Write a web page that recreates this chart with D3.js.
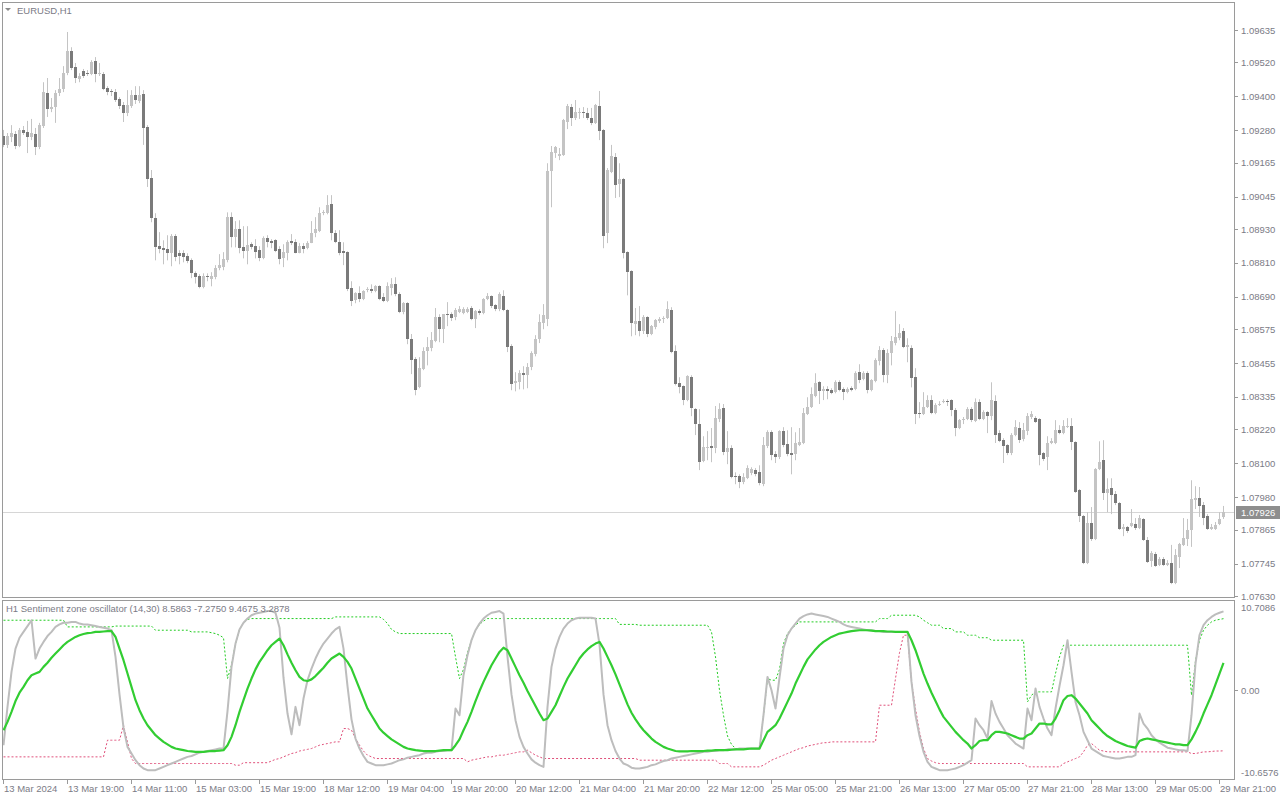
<!DOCTYPE html>
<html><head><meta charset="utf-8">
<script src="https://cdn.jsdelivr.net/npm/d3@7"></script>
<style>html,body{margin:0;padding:0;background:#fff}svg{display:block}</style>
</head><body>
<svg id="chart" width="1280" height="800"></svg>
<script>
// ---------- DATA (EURUSD H1, 306 bars) ----------
const open = [
1.09259,1.09228,1.09256,1.09266,1.09224,1.09281,1.09274,1.09256,1.09266,1.09220,
1.09295,1.09412,1.09355,1.09362,1.09412,1.09426,1.09482,1.09560,1.09504,1.09461,
1.09489,1.09482,1.09479,1.09525,1.09479,1.09479,1.09429,1.09419,1.09415,1.09390,
1.09369,1.09341,1.09366,1.09404,1.09383,1.09408,1.09291,1.09111,1.08968,1.08869,
1.08862,1.08858,1.08844,1.08904,1.08844,1.08844,1.08833,1.08819,1.08773,1.08763,
1.08724,1.08763,1.08752,1.08759,1.08791,1.08795,1.08819,1.08972,1.08901,1.08929,
1.08865,1.08851,1.08876,1.08869,1.08855,1.08826,1.08897,1.08887,1.08890,1.08858,
1.08826,1.08844,1.08887,1.08883,1.08844,1.08869,1.08862,1.08880,1.08915,1.08922,
1.08986,1.08986,1.09018,1.08915,1.08883,1.08851,1.08848,1.08720,1.08678,1.08703,
1.08681,1.08713,1.08717,1.08710,1.08727,1.08688,1.08674,1.08720,1.08734,1.08699,
1.08635,1.08667,1.08540,1.08469,1.08369,1.08433,1.08497,1.08508,1.08533,1.08618,
1.08575,1.08628,1.08628,1.08618,1.08635,1.08632,1.08635,1.08650,1.08611,1.08639,
1.08632,1.08681,1.08692,1.08660,1.08646,1.08692,1.08643,1.08515,1.08384,1.08387,
1.08419,1.08412,1.08440,1.08486,1.08540,1.08597,1.08611,1.09135,1.09199,1.09189,
1.09192,1.09309,1.09362,1.09323,1.09343,1.09344,1.09341,1.09323,1.09306,1.09366,
1.09281,1.08915,1.09132,1.09185,1.09090,1.09107,1.08848,1.08780,1.08593,1.08604,
1.08568,1.08618,1.08558,1.08583,1.08604,1.08611,1.08614,1.08643,1.08497,1.08384,
1.08373,1.08324,1.08405,1.08292,1.08239,1.08108,1.08154,1.08161,1.08154,1.08257,
1.08296,1.08140,1.08154,1.08054,1.08054,1.08033,1.08047,1.08065,1.08076,1.08068,
1.08026,1.08161,1.08210,1.08133,1.08122,1.08214,1.08168,1.08136,1.08133,1.08164,
1.08171,1.08274,1.08299,1.08337,1.08387,1.08355,1.08362,1.08359,1.08352,1.08387,
1.08362,1.08352,1.08366,1.08362,1.08423,1.08398,1.08419,1.08359,1.08391,1.08462,
1.08501,1.08412,1.08490,1.08526,1.08543,1.08568,1.08511,1.08508,1.08405,1.08278,
1.08274,1.08299,1.08324,1.08278,1.08306,1.08317,1.08320,1.08324,1.08288,1.08225,
1.08253,1.08257,1.08292,1.08249,1.08317,1.08257,1.08281,1.08267,1.08320,1.08207,
1.08182,1.08164,1.08136,1.08200,1.08225,1.08186,1.08214,1.08264,1.08260,1.08257,
1.08136,1.08122,1.08171,1.08171,1.08217,1.08207,1.08228,1.08232,1.08175,1.08005,
1.07913,1.07747,1.07889,1.07832,1.08079,1.08111,1.07995,1.08012,1.07991,1.07959,
1.07867,1.07874,1.07878,1.07885,1.07871,1.07903,1.07828,1.07754,1.07779,1.07740,
1.07761,1.07740,1.07747,1.07676,1.07768,1.07811,1.07832,1.07864,1.07970,1.07977,
1.07952,1.07913,1.07867,1.07867,1.07885,1.07910];
const high = [
1.09281,1.09270,1.09298,1.09277,1.09288,1.09295,1.09313,1.09320,1.09288,1.09306,
1.09450,1.09465,1.09394,1.09422,1.09465,1.09507,1.09628,1.09574,1.09518,1.09482,
1.09497,1.09493,1.09528,1.09539,1.09518,1.09486,1.09436,1.09426,1.09426,1.09397,
1.09380,1.09422,1.09422,1.09436,1.09436,1.09422,1.09298,1.09139,1.08986,1.08919,
1.08890,1.08908,1.08912,1.08912,1.08855,1.08855,1.08844,1.08826,1.08780,1.08770,
1.08773,1.08773,1.08777,1.08802,1.08841,1.08848,1.08989,1.08989,1.08958,1.08961,
1.08940,1.08940,1.08883,1.08894,1.08869,1.08904,1.08908,1.08894,1.08894,1.08869,
1.08876,1.08890,1.08912,1.08894,1.08880,1.08880,1.08887,1.08958,1.08972,1.09007,
1.08997,1.09050,1.09050,1.08926,1.08926,1.08883,1.08851,1.08745,1.08706,1.08727,
1.08713,1.08724,1.08734,1.08731,1.08731,1.08703,1.08741,1.08756,1.08759,1.08706,
1.08671,1.08671,1.08558,1.08476,1.08476,1.08511,1.08547,1.08565,1.08650,1.08628,
1.08628,1.08671,1.08635,1.08650,1.08657,1.08653,1.08653,1.08657,1.08643,1.08646,
1.08685,1.08703,1.08695,1.08664,1.08706,1.08713,1.08646,1.08522,1.08423,1.08430,
1.08444,1.08455,1.08497,1.08554,1.08628,1.08664,1.09163,1.09224,1.09224,1.09217,
1.09320,1.09373,1.09373,1.09387,1.09359,1.09362,1.09359,1.09359,1.09373,1.09419,
1.09284,1.09146,1.09228,1.09199,1.09163,1.09111,1.08851,1.08784,1.08650,1.08657,
1.08625,1.08621,1.08590,1.08611,1.08618,1.08621,1.08674,1.08653,1.08518,1.08405,
1.08376,1.08412,1.08412,1.08296,1.08292,1.08196,1.08214,1.08225,1.08303,1.08313,
1.08310,1.08214,1.08164,1.08068,1.08061,1.08065,1.08093,1.08086,1.08083,1.08093,
1.08193,1.08217,1.08217,1.08143,1.08217,1.08228,1.08217,1.08228,1.08210,1.08225,
1.08296,1.08334,1.08369,1.08419,1.08391,1.08373,1.08373,1.08366,1.08394,1.08394,
1.08369,1.08369,1.08373,1.08426,1.08451,1.08426,1.08426,1.08398,1.08472,1.08515,
1.08508,1.08504,1.08551,1.08639,1.08593,1.08579,1.08543,1.08518,1.08437,1.08317,
1.08352,1.08341,1.08341,1.08313,1.08320,1.08327,1.08327,1.08327,1.08296,1.08257,
1.08264,1.08299,1.08299,1.08330,1.08327,1.08288,1.08285,1.08387,1.08341,1.08217,
1.08189,1.08168,1.08207,1.08253,1.08246,1.08243,1.08278,1.08285,1.08267,1.08260,
1.08140,1.08196,1.08189,1.08253,1.08235,1.08253,1.08260,1.08260,1.08178,1.08009,
1.07917,1.07927,1.07945,1.08083,1.08178,1.08182,1.08047,1.08047,1.08002,1.07963,
1.07885,1.07878,1.07938,1.07906,1.07917,1.07906,1.07839,1.07789,1.07786,1.07768,
1.07768,1.07757,1.07811,1.07796,1.07818,1.07906,1.07903,1.08040,1.08019,1.08016,
1.07963,1.07920,1.07885,1.07892,1.07927,1.07949];
const low = [
1.09220,1.09217,1.09238,1.09213,1.09220,1.09263,1.09199,1.09245,1.09192,1.09213,
1.09288,1.09327,1.09344,1.09306,1.09401,1.09415,1.09475,1.09493,1.09447,1.09450,
1.09465,1.09472,1.09475,1.09450,1.09472,1.09422,1.09404,1.09401,1.09380,1.09355,
1.09309,1.09330,1.09359,1.09373,1.09376,1.09228,1.09079,1.08954,1.08819,1.08844,
1.08805,1.08819,1.08798,1.08816,1.08805,1.08812,1.08809,1.08756,1.08737,1.08720,
1.08720,1.08745,1.08727,1.08752,1.08784,1.08784,1.08812,1.08865,1.08865,1.08844,
1.08826,1.08805,1.08858,1.08826,1.08816,1.08823,1.08865,1.08862,1.08848,1.08805,
1.08795,1.08819,1.08873,1.08844,1.08844,1.08844,1.08858,1.08880,1.08901,1.08919,
1.08979,1.08982,1.08890,1.08880,1.08837,1.08802,1.08710,1.08657,1.08667,1.08671,
1.08678,1.08706,1.08703,1.08706,1.08678,1.08671,1.08671,1.08695,1.08692,1.08632,
1.08628,1.08522,1.08416,1.08341,1.08366,1.08430,1.08447,1.08497,1.08529,1.08529,
1.08526,1.08586,1.08604,1.08607,1.08632,1.08628,1.08632,1.08607,1.08579,1.08625,
1.08628,1.08678,1.08650,1.08639,1.08639,1.08639,1.08494,1.08359,1.08355,1.08362,
1.08362,1.08366,1.08430,1.08479,1.08526,1.08575,1.08586,1.09007,1.09182,1.09174,
1.09189,1.09284,1.09295,1.09316,1.09320,1.09323,1.09316,1.09298,1.09302,1.09245,
1.08862,1.08880,1.09128,1.09040,1.09043,1.08826,1.08695,1.08550,1.08554,1.08550,
1.08558,1.08547,1.08554,1.08575,1.08597,1.08597,1.08611,1.08490,1.08376,1.08348,
1.08306,1.08320,1.08267,1.08200,1.08076,1.08104,1.08111,1.08104,1.08136,1.08246,
1.08129,1.08097,1.08047,1.08026,1.08012,1.08026,1.08044,1.08058,1.08054,1.08022,
1.08019,1.08154,1.08111,1.08101,1.08115,1.08157,1.08125,1.08061,1.08111,1.08161,
1.08168,1.08271,1.08296,1.08334,1.08310,1.08324,1.08327,1.08345,1.08348,1.08355,
1.08324,1.08348,1.08355,1.08359,1.08384,1.08394,1.08348,1.08355,1.08387,1.08447,
1.08387,1.08384,1.08447,1.08518,1.08536,1.08508,1.08458,1.08369,1.08239,1.08260,
1.08271,1.08296,1.08274,1.08274,1.08303,1.08313,1.08303,1.08267,1.08196,1.08221,
1.08239,1.08253,1.08246,1.08246,1.08253,1.08253,1.08207,1.08253,1.08172,1.08175,
1.08101,1.08129,1.08129,1.08196,1.08172,1.08178,1.08200,1.08257,1.08243,1.08093,
1.08108,1.08076,1.08168,1.08168,1.08203,1.08203,1.08225,1.08147,1.07995,1.07892,
1.07743,1.07743,1.07825,1.07828,1.08076,1.07970,1.07927,1.07920,1.07952,1.07864,
1.07842,1.07853,1.07874,1.07864,1.07867,1.07825,1.07747,1.07733,1.07733,1.07736,
1.07736,1.07736,1.07672,1.07672,1.07729,1.07807,1.07807,1.07804,1.07938,1.07910,
1.07881,1.07864,1.07864,1.07864,1.07881,1.07903];
const close = [
1.09228,1.09259,1.09270,1.09224,1.09281,1.09270,1.09256,1.09270,1.09220,1.09298,
1.09415,1.09355,1.09362,1.09412,1.09426,1.09482,1.09560,1.09500,1.09465,1.09472,
1.09472,1.09479,1.09521,1.09479,1.09482,1.09426,1.09415,1.09415,1.09387,1.09366,
1.09341,1.09369,1.09404,1.09387,1.09404,1.09288,1.09107,1.08968,1.08865,1.08858,
1.08855,1.08844,1.08904,1.08830,1.08833,1.08830,1.08816,1.08773,1.08759,1.08724,
1.08763,1.08759,1.08763,1.08791,1.08802,1.08823,1.08972,1.08901,1.08929,1.08862,
1.08851,1.08873,1.08865,1.08848,1.08826,1.08897,1.08883,1.08880,1.08851,1.08823,
1.08848,1.08883,1.08880,1.08844,1.08869,1.08858,1.08880,1.08915,1.08929,1.08986,
1.08990,1.09014,1.08915,1.08883,1.08844,1.08844,1.08717,1.08674,1.08703,1.08681,
1.08710,1.08717,1.08710,1.08727,1.08681,1.08674,1.08727,1.08734,1.08699,1.08635,
1.08667,1.08540,1.08465,1.08359,1.08437,1.08497,1.08511,1.08536,1.08618,1.08575,
1.08628,1.08625,1.08614,1.08643,1.08646,1.08646,1.08646,1.08611,1.08639,1.08632,
1.08681,1.08692,1.08657,1.08646,1.08699,1.08643,1.08511,1.08380,1.08391,1.08419,
1.08412,1.08440,1.08490,1.08540,1.08600,1.08625,1.09135,1.09203,1.09220,1.09196,
1.09316,1.09366,1.09323,1.09344,1.09345,1.09341,1.09323,1.09306,1.09369,1.09277,
1.08904,1.09139,1.09189,1.09086,1.09107,1.08844,1.08777,1.08597,1.08604,1.08568,
1.08618,1.08558,1.08586,1.08607,1.08611,1.08614,1.08646,1.08494,1.08380,1.08369,
1.08324,1.08408,1.08296,1.08239,1.08104,1.08157,1.08157,1.08154,1.08260,1.08292,
1.08140,1.08154,1.08051,1.08051,1.08033,1.08051,1.08083,1.08079,1.08061,1.08029,
1.08164,1.08210,1.08129,1.08122,1.08214,1.08164,1.08133,1.08129,1.08171,1.08175,
1.08278,1.08299,1.08345,1.08384,1.08355,1.08362,1.08355,1.08348,1.08387,1.08359,
1.08352,1.08362,1.08359,1.08419,1.08394,1.08419,1.08359,1.08394,1.08465,1.08501,
1.08412,1.08490,1.08533,1.08547,1.08561,1.08511,1.08518,1.08402,1.08274,1.08274,
1.08299,1.08324,1.08278,1.08306,1.08310,1.08320,1.08317,1.08288,1.08225,1.08253,
1.08257,1.08292,1.08253,1.08317,1.08257,1.08281,1.08267,1.08324,1.08200,1.08178,
1.08161,1.08136,1.08200,1.08228,1.08182,1.08217,1.08267,1.08274,1.08246,1.08129,
1.08115,1.08171,1.08178,1.08217,1.08207,1.08232,1.08232,1.08175,1.07998,1.07913,
1.07747,1.07889,1.07832,1.08079,1.08104,1.07995,1.08009,1.07988,1.07959,1.07867,
1.07874,1.07860,1.07889,1.07871,1.07906,1.07828,1.07750,1.07782,1.07736,1.07761,
1.07740,1.07747,1.07676,1.07775,1.07814,1.07835,1.07864,1.07973,1.07977,1.07949,
1.07906,1.07867,1.07874,1.07881,1.07903,1.07926];

// Sentiment zone oscillator buffers
const oscValue = [
-6.6,-2.0,2.2,5.0,6.3,7.0,7.7,8.4,3.8,5.0,
5.8,6.5,7.0,7.6,7.9,8.1,8.1,8.2,8.2,8.0,
7.9,7.9,7.8,7.7,7.6,7.5,7.4,7.2,4.0,-0.5,
-4.5,-6.8,-7.6,-8.4,-9.0,-9.4,-9.6,-9.6,-9.6,-9.4,
-9.2,-9.0,-8.8,-8.6,-8.4,-8.2,-8.0,-7.9,-7.7,-7.5,
-7.4,-7.3,-7.2,-7.1,-7.0,-7.0,-2.5,2.8,5.6,7.3,
8.1,8.6,9.0,9.2,9.3,9.4,9.5,9.5,9.3,7.5,
1.5,-2.8,-5.3,-2.0,-4.2,-1.0,1.2,2.6,3.8,4.8,
5.6,6.2,6.8,7.3,7.6,5.0,0.5,-3.5,-5.8,-7.0,
-7.9,-8.6,-8.8,-9.0,-9.0,-9.0,-8.9,-8.8,-8.6,-8.4,
-8.3,-8.1,-8.0,-7.9,-7.8,-7.6,-7.5,-7.5,-7.4,-7.3,
-7.3,-7.2,-7.2,-2.2,-3.0,1.8,4.2,6.0,7.2,8.0,
8.6,9.0,9.3,9.4,9.5,9.2,4.0,-0.5,-3.6,-5.6,
-6.8,-7.6,-8.3,-8.7,-9.0,-9.2,-2.0,2.8,5.0,6.4,
7.4,8.0,8.4,8.6,8.7,8.7,8.7,8.7,8.6,5.5,
-0.5,-4.2,-6.0,-7.3,-8.2,-8.8,-9.0,-9.3,-9.4,-9.4,
-9.3,-9.2,-9.0,-8.9,-8.7,-8.5,-8.4,-8.2,-8.1,-8.0,
-7.9,-7.8,-7.7,-7.6,-7.5,-7.4,-7.4,-7.3,-7.3,-7.2,
-7.2,-7.1,-7.1,-7.1,-7.0,-7.0,-7.0,-7.0,-7.0,-7.0,
-3.0,1.6,0.0,-2.2,1.5,5.0,6.6,7.4,8.0,8.6,
8.9,9.1,9.2,9.1,9.0,8.9,8.8,8.6,8.4,8.2,
7.9,7.7,7.6,7.5,7.4,7.3,7.2,7.2,7.1,7.1,
7.0,7.0,7.0,7.0,7.0,7.0,7.0,1.0,-3.0,-5.5,
-7.4,-8.6,-9.2,-9.4,-9.6,-9.6,-9.6,-9.5,-9.4,-9.2,
-9.0,-8.7,-8.4,-3.4,-4.2,-4.8,-5.8,-1.3,-2.8,-3.8,
-4.6,-5.4,-5.9,-6.4,-6.7,-7.0,-2.2,-3.6,0.2,-2.0,
-3.4,-4.6,-5.4,-2.2,0.5,3.0,6.0,2.2,-1.4,-3.0,
-5.0,-6.0,-7.0,-7.3,-7.6,-7.9,-8.0,-8.1,-8.2,-8.2,
-8.1,-8.0,-8.0,-7.8,-2.8,-4.0,-4.6,-5.4,-5.9,-6.3,
-6.6,-6.9,-7.0,-7.1,-7.2,-7.2,-7.3,-3.0,3.2,6.6,
7.8,8.4,8.8,9.1,9.3,9.4675];
const signalValue = [
-4.8,-3.8,-2.6,-1.3,-0.3,0.4,1.2,1.8,2.0,2.2,
2.8,3.3,3.9,4.4,4.9,5.4,5.8,6.1,6.4,6.6,
6.75,6.85,6.9,7.0,7.0,7.05,7.1,7.1,6.4,5.0,
3.6,2.0,0.4,-1.2,-2.4,-3.4,-4.2,-4.8,-5.4,-5.8,
-6.2,-6.5,-6.8,-7.0,-7.1,-7.2,-7.3,-7.35,-7.4,-7.4,
-7.4,-7.35,-7.3,-7.3,-7.25,-7.2,-6.6,-5.6,-4.2,-2.6,
-1.2,0.2,1.4,2.5,3.4,4.1,4.8,5.4,5.8,6.2,
5.4,4.3,3.3,2.4,1.6,1.2,1.1,1.3,1.7,2.2,
2.7,3.3,3.8,4.1,4.4,4.0,3.4,2.6,1.4,0.2,
-1.0,-2.2,-3.0,-3.8,-4.6,-5.1,-5.5,-5.9,-6.2,-6.5,
-6.8,-7.0,-7.1,-7.2,-7.25,-7.3,-7.3,-7.3,-7.3,-7.25,
-7.2,-7.2,-7.2,-6.6,-5.9,-4.8,-3.8,-2.6,-1.3,-0.1,
1.0,2.0,3.0,3.8,4.6,5.1,4.8,3.8,2.8,1.8,
0.9,-0.1,-1.0,-1.9,-2.8,-3.6,-3.4,-2.6,-1.8,-0.7,
0.4,1.4,2.2,3.0,3.8,4.4,4.9,5.3,5.6,5.8,
5.0,4.0,3.0,1.9,0.7,-0.5,-1.7,-2.7,-3.5,-4.2,
-4.8,-5.3,-5.8,-6.2,-6.5,-6.8,-7.0,-7.15,-7.3,-7.35,
-7.35,-7.35,-7.3,-7.3,-7.3,-7.3,-7.25,-7.25,-7.2,-7.2,
-7.2,-7.2,-7.15,-7.1,-7.1,-7.1,-7.05,-7.0,-7.0,-7.0,
-6.0,-5.0,-4.6,-4.2,-3.4,-2.4,-1.4,-0.4,0.8,1.8,
2.8,3.7,4.3,4.9,5.4,5.8,6.1,6.4,6.6,6.8,
6.9,7.0,7.1,7.15,7.2,7.2,7.2,7.15,7.1,7.1,
7.1,7.05,7.05,7.0,7.0,7.0,7.0,6.0,4.8,3.4,
2.0,0.8,-0.3,-1.3,-2.3,-3.2,-3.8,-4.4,-5.0,-5.5,
-6.0,-6.4,-7.0,-6.6,-6.1,-6.0,-6.0,-5.4,-5.0,-5.0,
-5.1,-5.2,-5.4,-5.6,-5.8,-5.8,-5.4,-5.2,-4.6,-4.0,
-4.0,-4.1,-4.1,-3.4,-2.4,-1.2,-0.7,-0.6,-1.0,-1.6,
-2.2,-2.8,-3.6,-4.1,-4.6,-5.1,-5.5,-5.8,-6.1,-6.3,
-6.5,-6.7,-6.8,-6.9,-6.1,-5.9,-5.8,-5.9,-6.0,-6.1,
-6.2,-6.3,-6.4,-6.5,-6.5,-6.6,-6.6,-5.9,-5.0,-4.0,
-2.8,-1.7,-0.6,0.7,2.0,3.2878];
const upperZone = [
8.4,8.4,8.4,8.4,8.4,8.4,8.4,8.4,8.4,8.4,
8.4,8.4,8.4,8.4,8.4,8.4,7.6,7.6,7.6,7.6,
7.6,7.6,7.6,7.6,7.6,7.6,7.6,7.6,7.7,7.7,
7.7,7.7,7.7,7.7,7.7,7.7,7.7,7.7,7.2,7.2,
7.2,7.2,7.2,7.2,7.2,7.2,7.2,7.0,7.0,7.0,
7.0,7.0,6.9,6.8,6.6,6.3,1.4,3.0,5.6,7.3,
8.1,8.5,8.6,8.6,8.6,8.6,8.6,8.6,8.6,8.6,
8.6,8.6,8.6,8.6,8.6,8.6,8.6,8.6,8.6,8.6,
8.6,8.6,8.6,8.8,8.8,8.8,8.8,8.8,8.8,8.8,
8.8,8.8,8.8,8.8,8.8,8.5,8.0,7.3,7.0,6.8,
6.8,6.8,6.8,6.8,6.8,6.8,6.8,6.8,6.8,6.8,
6.8,6.8,6.8,4.0,1.4,2.5,4.5,6.0,7.2,7.9,
8.3,8.6,8.6,8.6,8.6,8.6,8.6,8.6,8.6,8.6,
8.6,8.6,8.6,8.6,8.6,8.6,8.6,8.6,8.6,8.6,
8.6,8.6,8.6,8.6,8.6,8.6,8.6,8.6,8.6,8.6,
8.6,8.6,8.6,8.6,7.9,7.9,7.9,7.9,7.9,7.8,
7.8,7.8,7.8,7.8,7.8,7.8,7.8,7.8,7.8,7.8,
7.8,7.8,7.8,7.8,7.8,7.8,7.8,7.0,4.0,0.0,
-3.0,-5.5,-6.5,-7.0,-7.0,-7.0,-7.0,-7.0,-7.0,-7.0,
-3.0,1.4,1.2,1.2,2.5,5.6,6.8,7.4,7.8,8.2,
8.2,8.2,8.2,8.2,8.2,8.2,8.2,8.2,8.2,8.2,
8.2,8.2,8.2,8.2,8.2,8.2,8.2,8.2,8.2,8.6,
8.6,8.6,9.0,9.0,9.0,9.0,9.0,9.0,9.0,8.8,
8.4,8.1,7.8,7.8,7.8,7.4,7.4,7.4,7.0,7.0,
7.0,6.6,6.6,6.6,6.3,6.3,6.3,6.0,6.0,6.0,
6.0,6.0,6.0,6.0,6.0,6.0,-1.4,-0.6,-0.2,-0.2,
-0.2,-0.2,-0.2,2.0,4.0,5.4,5.4,5.4,5.4,5.4,
5.4,5.4,5.4,5.4,5.4,5.4,5.4,5.4,5.4,5.4,
5.4,5.4,5.4,5.4,5.4,5.4,5.4,5.4,5.4,5.4,
5.4,5.4,5.4,5.4,5.4,5.4,5.4,-0.6,3.5,6.0,
7.2,7.8,8.2,8.4,8.5,8.5863];
const lowerZone = [
-8.0,-8.0,-8.0,-8.0,-8.0,-8.0,-8.0,-8.0,-8.0,-8.0,
-8.0,-8.0,-8.0,-8.0,-8.0,-8.0,-8.0,-8.0,-8.0,-8.0,
-8.0,-8.0,-8.0,-8.0,-8.0,-8.0,-6.0,-6.0,-6.0,-6.0,
-4.2,-6.2,-8.2,-8.8,-8.8,-8.8,-8.8,-8.8,-8.8,-8.8,
-8.8,-8.8,-8.8,-8.8,-8.8,-8.8,-8.8,-8.8,-8.8,-8.8,
-8.8,-8.8,-8.8,-8.8,-8.8,-8.8,-8.8,-8.8,-9.0,-9.0,
-8.7,-8.7,-8.7,-8.7,-8.7,-8.7,-8.7,-8.5,-8.3,-8.2,
-8.0,-7.8,-7.6,-7.5,-7.3,-7.2,-7.1,-7.0,-6.8,-6.6,
-6.5,-6.4,-6.3,-6.2,-6.2,-4.6,-4.6,-4.8,-5.8,-6.6,
-7.3,-7.8,-8.0,-8.2,-8.2,-8.2,-8.2,-8.2,-8.2,-8.2,
-8.2,-8.2,-8.2,-8.2,-8.2,-8.2,-8.2,-8.2,-8.2,-8.2,
-8.2,-8.2,-8.2,-8.2,-8.2,-8.2,-8.6,-8.4,-8.3,-8.2,
-8.1,-8.0,-8.0,-7.9,-7.8,-7.8,-7.7,-7.6,-7.5,-7.4,
-7.4,-7.2,-7.5,-7.8,-8.0,-8.2,-8.2,-8.2,-8.2,-8.2,
-8.2,-8.2,-8.2,-8.2,-8.2,-8.2,-8.2,-8.2,-8.2,-8.2,
-8.2,-8.2,-8.2,-8.2,-8.2,-8.2,-8.2,-8.2,-8.2,-8.4,
-8.4,-8.4,-8.4,-8.4,-8.4,-8.4,-8.4,-8.4,-8.4,-8.4,
-8.4,-8.4,-8.4,-8.4,-8.4,-8.4,-8.4,-8.4,-8.4,-8.8,
-8.8,-8.8,-9.2,-9.2,-9.2,-9.2,-9.2,-9.2,-9.2,-9.2,
-9.0,-8.7,-8.4,-8.2,-8.0,-7.8,-7.6,-7.4,-7.2,-7.0,
-6.9,-6.7,-6.6,-6.5,-6.4,-6.3,-6.3,-6.2,-6.2,-6.2,
-6.2,-6.2,-6.2,-6.2,-6.2,-6.2,-6.2,-6.2,-6.2,-1.8,
-1.8,-1.8,-1.8,1.4,4.5,6.6,6.6,1.0,-2.2,-5.0,
-7.0,-8.2,-8.5,-8.7,-8.8,-8.8,-8.8,-8.8,-8.8,-8.8,
-8.8,-8.8,-8.8,-8.8,-8.8,-8.8,-8.8,-8.8,-8.8,-8.8,
-8.8,-8.8,-8.8,-8.8,-8.8,-8.8,-9.2,-9.2,-9.2,-9.2,
-9.2,-9.2,-9.2,-9.2,-9.2,-8.8,-8.6,-8.4,-8.2,-8.0,
-7.4,-6.6,-6.4,-6.8,-7.2,-7.3,-7.4,-7.4,-7.4,-7.4,
-7.4,-7.4,-7.4,-7.4,-7.4,-7.4,-7.4,-7.4,-7.4,-7.4,
-7.4,-7.4,-7.4,-7.4,-7.4,-7.4,-7.4,-7.6,-7.6,-7.5,
-7.4,-7.4,-7.35,-7.3,-7.3,-7.275];

const priceTicks = [1.09635,1.09520,1.09400,1.09280,1.09165,1.09045,1.08930,1.08810,1.08690,
  1.08575,1.08455,1.08335,1.08220,1.08100,1.07980,1.07865,1.07745,1.07630];
const currentPrice = 1.07926;
const oscMax = 10.7086, oscMin = -10.6576;
const oscTicks = [10.7086, 0.00, -10.6576];
const oscTickLabels = ["10.7086","0.00","-10.6576"];
const timeLabelBars = [0,16,32,48,64,80,96,112,128,144,160,176,192,208,224,240,256,272,288,304];
const timeLabels = ["13 Mar 2024","13 Mar 19:00","14 Mar 11:00","15 Mar 03:00","15 Mar 19:00",
  "18 Mar 12:00","19 Mar 04:00","19 Mar 20:00","20 Mar 12:00","21 Mar 04:00","21 Mar 20:00",
  "22 Mar 12:00","25 Mar 05:00","25 Mar 21:00","26 Mar 13:00","27 Mar 05:00","27 Mar 21:00",
  "28 Mar 13:00","29 Mar 05:00","29 Mar 21:00"];
const symbolTitle = "EURUSD,H1";
const indicatorTitle = "H1 Sentiment zone oscillator (14,30) 8.5863 -7.2750 9.4675 3.2878";

// ---------- DRAWING ----------
const svg = d3.select("#chart");
const FONT = "'Liberation Sans', Arial, sans-serif";
const textCol = "#7b7b86";
const frameCol = "#9a9a9a";
const L = 2, R = 1234;
const mainTop = 2, mainBot = 597, oscTop = 600, oscBot = 779;

const n = close.length;
const x = d3.scaleLinear().domain([0, n - 1]).range([3, 3 + 4 * (n - 1)]);
const yP = d3.scaleLinear().domain([1.07630, 1.09635]).range([596, 30]);
const yO = d3.scaleLinear().domain([oscMin, oscMax]).range([oscBot, oscTop + 1]);

svg.append("rect").attr("width",1280).attr("height",800).attr("fill","#fff");

// clip paths
const defs = svg.append("defs");
defs.append("clipPath").attr("id","clipMain").append("rect")
  .attr("x",L+1).attr("y",mainTop+1).attr("width",R-L-1).attr("height",mainBot-mainTop-1);
defs.append("clipPath").attr("id","clipOsc").append("rect")
  .attr("x",L+1).attr("y",oscTop+1).attr("width",R-L-1).attr("height",oscBot-oscTop-1);

// current price line
svg.append("line").attr("x1",L).attr("x2",R)
  .attr("y1",Math.round(yP(currentPrice))+0.5).attr("y2",Math.round(yP(currentPrice))+0.5)
  .attr("stroke","#d6d6d6").attr("stroke-width",1);

// candles
const bars = d3.range(n).map(i => ({i, o:open[i], h:high[i], l:low[i], c:close[i]}));
const gC = svg.append("g").attr("clip-path","url(#clipMain)");
gC.selectAll("line.wick").data(bars).join("line")
  .attr("x1", d => Math.round(x(d.i)) + 0.5).attr("x2", d => Math.round(x(d.i)) + 0.5)
  .attr("y1", d => yP(d.h)).attr("y2", d => yP(d.l))
  .attr("stroke", "#c4c4c4").attr("stroke-width", 1);
gC.selectAll("rect.body").data(bars).join("rect")
  .attr("x", d => Math.round(x(d.i)) - 1).attr("width", 3)
  .attr("y", d => Math.round(yP(Math.max(d.o, d.c))))
  .attr("height", d => Math.max(1, Math.round(Math.abs(yP(d.o) - yP(d.c)))))
  .attr("fill", d => d.c >= d.o ? "#c4c4c4" : "#7a7a7a");

// oscillator lines
const gO = svg.append("g").attr("clip-path","url(#clipOsc)");
const line = d3.line().x((d,i) => x(i) + 0.5).y(d => yO(d));
gO.append("path").datum(lowerZone).attr("d", line).attr("fill","none")
  .attr("stroke","#e0507a").attr("stroke-width",1).attr("stroke-dasharray","2,2");
gO.append("path").datum(upperZone).attr("d", line).attr("fill","none")
  .attr("stroke","#22cc22").attr("stroke-width",1).attr("stroke-dasharray","2,2");
gO.append("path").datum(oscValue).attr("d", line).attr("fill","none")
  .attr("stroke","#bdbdbd").attr("stroke-width",2).attr("stroke-linejoin","round");
gO.append("path").datum(signalValue).attr("d", line).attr("fill","none")
  .attr("stroke","#32cd32").attr("stroke-width",2.2).attr("stroke-linejoin","round");

// frames
svg.append("rect").attr("x",L+0.5).attr("y",mainTop+0.5).attr("width",R-L).attr("height",mainBot-mainTop)
  .attr("fill","none").attr("stroke",frameCol);
svg.append("rect").attr("x",L+0.5).attr("y",oscTop+0.5).attr("width",R-L).attr("height",oscBot-oscTop)
  .attr("fill","none").attr("stroke",frameCol);

// price axis
const gPA = svg.append("g");
gPA.selectAll("line").data(priceTicks).join("line")
  .attr("x1",R).attr("x2",R+4).attr("y1",d=>Math.round(yP(d))+0.5).attr("y2",d=>Math.round(yP(d))+0.5)
  .attr("stroke",frameCol);
gPA.selectAll("text").data(priceTicks).join("text")
  .attr("x",R+7).attr("y",d=>yP(d)+3.5).text(d=>d.toFixed(5))
  .attr("font-family",FONT).attr("font-size",9.5).attr("fill",textCol);

// current price tag
const cy = yP(currentPrice);
svg.append("rect").attr("x",R+2).attr("y",Math.round(cy)-6).attr("width",44).attr("height",13).attr("fill","#8e8e8e");
svg.append("text").attr("x",R+7).attr("y",cy+3.5).text(currentPrice.toFixed(5))
  .attr("font-family",FONT).attr("font-size",9.5).attr("fill","#fff");

// oscillator axis
const gOA = svg.append("g");
gOA.append("line").attr("x1",R).attr("x2",R+4).attr("y1",Math.round(yO(0))+0.5).attr("y2",Math.round(yO(0))+0.5).attr("stroke",frameCol);
gOA.selectAll("text").data(oscTicks).join("text")
  .attr("x",R+7)
  .attr("y",(d,i)=> i===0 ? yO(d)+10 : (i===2 ? yO(d)-3 : yO(d)+3.5))
  .text((d,i)=>oscTickLabels[i])
  .attr("font-family",FONT).attr("font-size",9.5).attr("fill",textCol);

// time axis
const gT = svg.append("g");
gT.selectAll("line").data(timeLabelBars).join("line")
  .attr("x1",d=>Math.round(x(d))+0.5).attr("x2",d=>Math.round(x(d))+0.5)
  .attr("y1",oscBot).attr("y2",oscBot+5).attr("stroke",frameCol);
gT.selectAll("text").data(timeLabelBars).join("text")
  .attr("x",d=>x(d)+1).attr("y",oscBot+13).text((d,i)=>timeLabels[i])
  .attr("font-family",FONT).attr("font-size",9.5).attr("fill",textCol);

// titles
svg.append("path").attr("d","M5,8 L11,8 L8,11 Z").attr("fill","#8a8a8a");
svg.append("text").attr("x",17).attr("y",13.5).text(symbolTitle)
  .attr("font-family",FONT).attr("font-size",9.5).attr("fill",textCol);
svg.append("text").attr("x",6).attr("y",612).text(indicatorTitle)
  .attr("font-family",FONT).attr("font-size",9.5).attr("fill",textCol);
</script>
</body></html>
